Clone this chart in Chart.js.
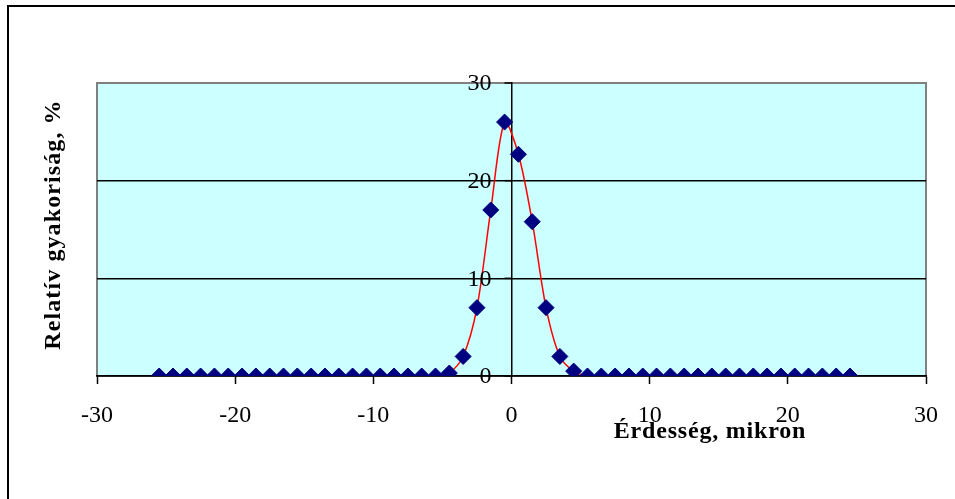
<!doctype html>
<html lang="hu">
<head>
<meta charset="utf-8">
<title>Relatív gyakoriság</title>
<script src="https://cdn.jsdelivr.net/npm/chart.js@4.4.1/dist/chart.umd.min.js"></script>
<style>
  body { margin: 0; background: #fff; }
  #wrap { width: 955px; height: 499px; }
</style>
</head>
<body>
<div id="wrap"><canvas id="myChart" width="955" height="499"></canvas></div>
<script>
  // x positions (mikron) and measured relative frequency (%)
  var roughness = [
    -25.5, -24.5, -23.5, -22.5, -21.5, -20.5, -19.5, -18.5, -17.5, -16.5,
    -15.5, -14.5, -13.5, -12.5, -11.5, -10.5, -9.5, -8.5, -7.5, -6.5,
    -5.5, -4.5, -3.5, -2.5, -1.5, -0.5, 0.5, 1.5, 2.5, 3.5,
    4.5, 5.5, 6.5, 7.5, 8.5, 9.5, 10.5, 11.5, 12.5, 13.5,
    14.5, 15.5, 16.5, 17.5, 18.5, 19.5, 20.5, 21.5, 22.5, 23.5, 24.5
  ];
  var frequency = [
    0, 0, 0, 0, 0, 0, 0, 0, 0, 0,
    0, 0, 0, 0, 0, 0, 0, 0, 0, 0,
    0, 0.3, 2.0, 7.0, 17.0, 26.0, 22.7, 15.8, 7.0, 2.0,
    0.5, 0, 0, 0, 0, 0, 0, 0, 0, 0,
    0, 0, 0, 0, 0, 0, 0, 0, 0, 0, 0
  ];
  var xTicks = [-30, -20, -10, 0, 10, 20, 30];
  var yTicks = [0, 10, 20, 30];
  var xTitle = "Érdesség, mikron";
  var yTitle = "Relatív gyakoriság, %";

  var points = roughness.map(function (x, i) { return { x: x, y: frequency[i] }; });

  // plot background, frame, y labels next to the x=0 axis and the axis titles
  var decor = {
    id: "decor",
    beforeDraw: function (chart) {
      var ctx = chart.ctx, a = chart.chartArea;
      ctx.save();
      ctx.letterSpacing = "0px";
      ctx.fillStyle = "#fff";
      ctx.fillRect(0, 0, chart.width, chart.height);
      ctx.strokeStyle = "#000";
      ctx.lineWidth = 2;
      ctx.beginPath();
      ctx.moveTo(8, chart.height + 2);
      ctx.lineTo(8, 6);
      ctx.lineTo(chart.width + 2, 6);
      ctx.stroke();
      ctx.fillStyle = "#ccffff";
      ctx.fillRect(a.left, a.top, a.right - a.left, a.bottom - a.top);
      ctx.strokeStyle = "#808080";
      ctx.strokeRect(a.left, a.top, a.right - a.left, a.bottom - a.top);
      ctx.restore();
    },
    afterDraw: function (chart) {
      var ctx = chart.ctx, a = chart.chartArea;
      var xs = chart.scales.x, ys = chart.scales.y;
      var x0 = xs.getPixelForValue(0);
      ctx.save();
      ctx.fillStyle = "#000";
      ctx.strokeStyle = "#000";
      ctx.lineWidth = 1.5;
      ctx.font = "24px 'Liberation Serif'";
      ctx.textAlign = "right";
      ctx.textBaseline = "middle";
      yTicks.forEach(function (v) {
        var y = ys.getPixelForValue(v);
        ctx.beginPath();
        ctx.moveTo(x0, y);
        ctx.lineTo(x0 - 7, y);
        ctx.stroke();
        ctx.fillText(String(v), x0 - 20, y + 1);
      });
      ctx.font = "bold 24px 'Liberation Serif'";
      ctx.textAlign = "center";
      ctx.textBaseline = "alphabetic";
      ctx.letterSpacing = "0.8px";
      ctx.fillText(xTitle, 710, 438);
      ctx.letterSpacing = "1.1px";
      ctx.translate(60, (a.top + a.bottom) / 2 - 5);
      ctx.rotate(-Math.PI / 2);
      ctx.fillText(yTitle, 0, 0);
      ctx.letterSpacing = "0px";
      ctx.restore();
    }
  };

  new Chart(document.getElementById("myChart").getContext("2d"), {
    type: "scatter",
    data: {
      datasets: [{
        label: yTitle,
        data: points,
        showLine: true,
        tension: 0.3,
        borderColor: "#ff0000",
        borderWidth: 1.5,
        pointStyle: "rectRot",
        pointRadius: 8,
        pointHoverRadius: 8,
        pointBackgroundColor: "#000080",
        pointBorderColor: "#000080",
        pointBorderWidth: 1
      }]
    },
    options: {
      responsive: false,
      animation: false,
      events: [],
      layout: { padding: { left: 97, right: 28, top: 83, bottom: 0 } },
      plugins: { legend: { display: false }, tooltip: { enabled: false } },
      scales: {
        x: {
          type: "linear",
          position: "bottom",
          min: -30,
          max: 30,
          afterBuildTicks: function (s) { s.ticks = xTicks.map(function (v) { return { value: v }; }); },
          afterFit: function (s) { s.height = 123; },
          border: { color: "#000", width: 1.5 },
          grid: { drawOnChartArea: false, color: "#000", tickLength: 8, tickWidth: 1.5 },
          ticks: { color: "#000", padding: 17, font: { family: "Liberation Serif", size: 24 } }
        },
        y: {
          type: "linear",
          position: { x: 0 },
          min: 0,
          max: 30,
          afterBuildTicks: function (s) { s.ticks = yTicks.map(function (v) { return { value: v }; }); },
          border: { color: "#000", width: 1.5 },
          grid: {
            drawTicks: false,
            color: function (c) { return c.tick && c.tick.value === 30 ? "#808080" : "#000"; },
            lineWidth: function (c) { return c.tick && c.tick.value === 30 ? 2 : 1.5; }
          },
          ticks: { display: false }
        }
      }
    },
    plugins: [decor]
  });
</script>
</body>
</html>
